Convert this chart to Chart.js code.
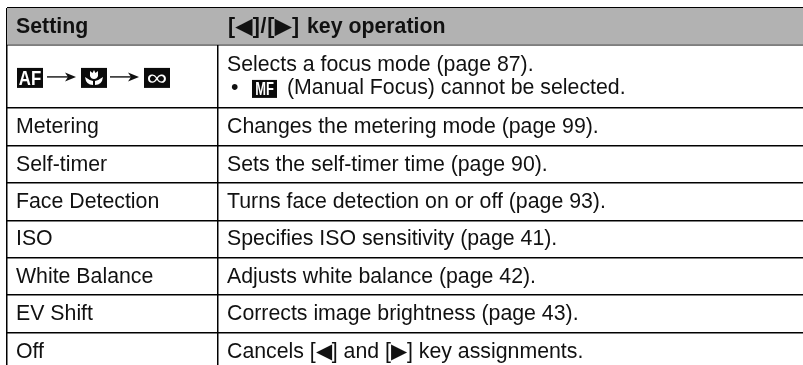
<!DOCTYPE html>
<html>
<head>
<meta charset="utf-8">
<title>Key operation table</title>
<script src="https://cdn.jsdelivr.net/npm/chart.js@4"></script>
<style>
  html, body { margin: 0; padding: 0; background: #fff; overflow: hidden; }
  #wrap { width: 803px; height: 365px; }
</style>
</head>
<body>
<div id="wrap"><canvas id="chart1"></canvas></div>
<script>
// table content
const headers = ['Setting', '[◀]/[▶]', 'key operation'];
const settings = ['', 'Metering', 'Self-timer', 'Face Detection', 'ISO', 'White Balance', 'EV Shift', 'Off'];
const operations = [
  'Selects a focus mode (page 87).',
  'Changes the metering mode (page 99).',
  'Sets the self-timer time (page 90).',
  'Turns face detection on or off (page 93).',
  'Specifies ISO sensitivity (page 41).',
  'Adjusts white balance (page 42).',
  'Corrects image brightness (page 43).',
  'Cancels [◀] and [▶] key assignments.'
];
const noteLine = '(Manual Focus) cannot be selected.';
const rowSpans = [0.98, 1.7, 1, 1, 1, 1, 1, 1, 1];
const columnWidths = [211, 585];

const rowEdges = [0];
rowSpans.forEach(function(s) { rowEdges.push(rowEdges[rowEdges.length - 1] + s); });
const columnEdges = [0, columnWidths[0], columnWidths[0] + columnWidths[1]];

const FONT = '"Liberation Sans", Arial, sans-serif';
const INK = '#111';
const BODY_SIZE = 21.3;

function badge(ctx, x, y, w, h, label, size, squeeze, weight) {
  ctx.fillStyle = '#0b0b0b';
  ctx.fillRect(x, y, w, h);
  if (label) {
    ctx.save();
    ctx.fillStyle = '#fff';
    ctx.font = weight + ' ' + size + 'px ' + FONT;
    ctx.textAlign = 'center';
    ctx.translate(x + w / 2, y + h / 2 + 1);
    ctx.scale(squeeze, 1);
    ctx.fillText(label, 0, 0);
    ctx.restore();
  }
}

function flower(ctx, x, y, w, h) {
  badge(ctx, x, y, w, h, '');
  const cx = x + w / 2, cy = y + h / 2;
  ctx.fillStyle = '#fff';
  ctx.beginPath();
  ctx.moveTo(cx - 4, cy - 7);
  ctx.lineTo(cx - 1.5, cy - 5);
  ctx.lineTo(cx, cy - 8);
  ctx.lineTo(cx + 1.5, cy - 5);
  ctx.lineTo(cx + 4, cy - 7);
  ctx.lineTo(cx + 4, cy - 2);
  ctx.quadraticCurveTo(cx + 3, cy + 1, cx, cy + 1);
  ctx.quadraticCurveTo(cx - 3, cy + 1, cx - 4, cy - 2);
  ctx.closePath();
  ctx.fill();
  ctx.beginPath();
  ctx.moveTo(cx - 9, cy - 1);
  ctx.quadraticCurveTo(cx - 8, cy + 7, cx - 1, cy + 7);
  ctx.lineTo(cx - 1, cy + 3);
  ctx.quadraticCurveTo(cx - 5, cy + 2, cx - 9, cy - 1);
  ctx.moveTo(cx + 9, cy - 1);
  ctx.quadraticCurveTo(cx + 8, cy + 7, cx + 1, cy + 7);
  ctx.lineTo(cx + 1, cy + 3);
  ctx.quadraticCurveTo(cx + 5, cy + 2, cx + 9, cy - 1);
  ctx.fill();
}

function arrow(ctx, x0, x1, y) {
  ctx.strokeStyle = INK;
  ctx.lineWidth = 1.4;
  ctx.beginPath();
  ctx.moveTo(x0, y);
  ctx.lineTo(x1 - 4, y);
  ctx.stroke();
  ctx.fillStyle = INK;
  ctx.beginPath();
  ctx.moveTo(x1, y);
  ctx.lineTo(x1 - 11, y - 4.5);
  ctx.lineTo(x1 - 8, y);
  ctx.lineTo(x1 - 11, y + 4.5);
  ctx.closePath();
  ctx.fill();
}

// writes the cell text at positions taken from the chart's own scales
const tableText = {
  id: 'tableText',
  afterDatasetsDraw(chart) {
    const ctx = chart.ctx;
    const xs = chart.scales.x, ys = chart.scales.y;
    const col1 = xs.getPixelForValue(columnEdges[0]) + 9;
    const col2 = xs.getPixelForValue(columnEdges[1]) + 9;
    ctx.save();
    ctx.textBaseline = 'middle';
    ctx.fillStyle = INK;

    const headMid = ys.getPixelForValue(rowSpans[0] / 2) + 0.5;
    ctx.font = 'bold ' + BODY_SIZE + 'px ' + FONT;
    ctx.fillText(headers[0], col1, headMid);
    ctx.letterSpacing = '0.8px';
    ctx.fillText(headers[1], col2 + 1, headMid);
    ctx.letterSpacing = '0px';
    ctx.fillText(headers[2], col2 + 80, headMid);

    operations.forEach(function(op, i) {
      const mid = ys.getPixelForValue((rowEdges[i + 1] + rowEdges[i + 2]) / 2) + 0.5;
      ctx.fillStyle = INK;
      ctx.font = BODY_SIZE + 'px ' + FONT;
      if (i === 0) {
        ctx.fillText(op, col2, mid - 11.5);
        ctx.fillText('•', col2 + 4, mid + 11);
        ctx.fillText(noteLine, col2 + 60, mid + 11);
        badge(ctx, col2 + 25, mid + 3, 25, 18, 'MF', 19, 0.68, 'bold');
        badge(ctx, col1 + 1, mid - 9, 26, 20, 'AF', 21, 0.8, 'bold');
        arrow(ctx, col1 + 31, col1 + 60, mid);
        flower(ctx, col1 + 65, mid - 9, 26, 20);
        arrow(ctx, col1 + 94, col1 + 123, mid);
        badge(ctx, col1 + 128, mid - 9, 26, 20, '∞', 22, 1.3, 'normal');
      } else {
        ctx.fillText(settings[i], col1, mid);
        ctx.fillText(op, col2, mid);
      }
    });
    ctx.restore();
  }
};

new Chart(document.getElementById('chart1'), {
  type: 'line',
  data: {
    datasets: [{
      // header band
      data: [{ x: columnEdges[0], y: 0 }, { x: columnEdges[2], y: 0 }],
      fill: { value: rowSpans[0] },
      backgroundColor: '#b2b2b2',
      borderWidth: 0,
      pointRadius: 0
    }]
  },
  plugins: [tableText],
  options: {
    responsive: true,
    maintainAspectRatio: false,
    animation: false,
    events: [],
    layout: { padding: { left: 7, top: 8, right: 0, bottom: 0 } },
    plugins: { legend: { display: false }, tooltip: { enabled: false } },
    scales: {
      x: {
        type: 'linear',
        min: columnEdges[0],
        max: columnEdges[2],
        afterBuildTicks(axis) { axis.ticks = columnEdges.slice(0, 2).map(function(v) { return { value: v }; }); },
        grid: { color: '#000', lineWidth: 1.5, drawTicks: false },
        border: { display: false },
        ticks: { display: false }
      },
      y: {
        type: 'linear',
        reverse: true,
        min: 0,
        max: 9.55,
        afterBuildTicks(axis) { axis.ticks = rowEdges.slice(0, -1).map(function(v) { return { value: v }; }); },
        grid: { color: '#000', lineWidth: 1.5, drawTicks: false },
        border: { display: false },
        ticks: { display: false }
      }
    }
  }
});
</script>
</body>
</html>
